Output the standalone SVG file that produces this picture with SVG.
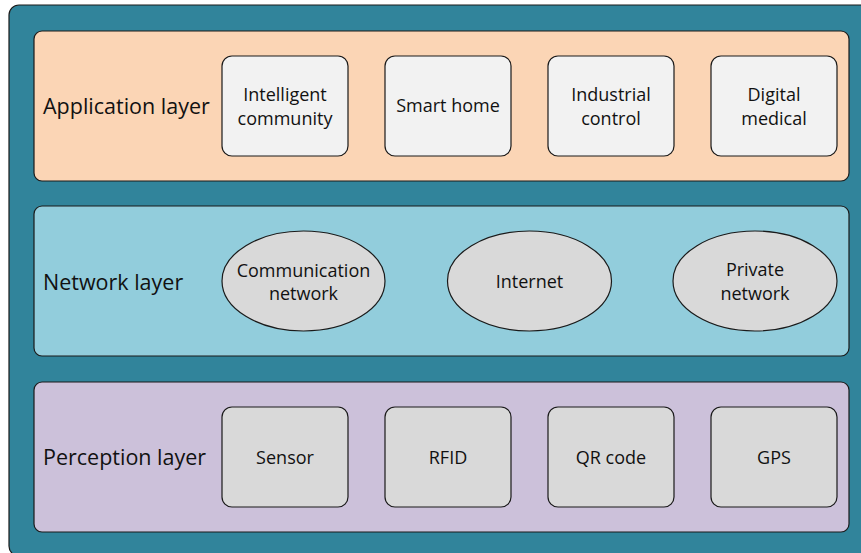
<svg xmlns="http://www.w3.org/2000/svg" width="861" height="553" viewBox="0 0 861 553">
  <style>
    .frame { fill: #31849B; stroke: #1a1a1a; stroke-width: 1.2; }
    .layer { stroke: #1a1a1a; stroke-width: 1.2; }
    .app { fill: #FBD5B5; }
    .net { fill: #92CDDC; }
    .per { fill: #CCC1DA; }
    .item { stroke: #1a1a1a; stroke-width: 1.2; }
    .light { fill: #F2F2F2; }
    .grey { fill: #D9D9D9; }
    text { font-family: "Open Sans", "Liberation Sans", sans-serif; fill: #111; }
    .lbl { font-size: 21.5px; }
    .txt { font-size: 18px; text-anchor: middle; }
  </style>

  <!-- outer frame -->
  <rect class="frame" x="9" y="5" width="880" height="551" rx="10"/>

  <!-- application layer -->
  <g id="application-layer">
    <rect class="layer app" x="34" y="31" width="815" height="150" rx="8"/>
    <text class="lbl" x="43" y="114">Application layer</text>
  </g>
  <g id="intelligent-community">
    <rect class="item light" x="222" y="56" width="126" height="100" rx="10"/>
    <text class="txt" x="285" y="101">Intelligent</text>
    <text class="txt" x="285" y="125">community</text>
  </g>
  <g id="smart-home">
    <rect class="item light" x="385" y="56" width="126" height="100" rx="10"/>
    <text class="txt" x="448" y="112">Smart home</text>
  </g>
  <g id="industrial-control">
    <rect class="item light" x="548" y="56" width="126" height="100" rx="10"/>
    <text class="txt" x="611" y="101">Industrial</text>
    <text class="txt" x="611" y="125">control</text>
  </g>
  <g id="digital-medical">
    <rect class="item light" x="711" y="56" width="126" height="100" rx="10"/>
    <text class="txt" x="774" y="101">Digital</text>
    <text class="txt" x="774" y="125">medical</text>
  </g>

  <!-- network layer -->
  <g id="network-layer">
    <rect class="layer net" x="34" y="206" width="815" height="150" rx="8"/>
    <text class="lbl" x="43" y="290">Network layer</text>
  </g>
  <g id="communication-network">
    <ellipse class="item grey" cx="303.5" cy="281" rx="81.5" ry="50"/>
    <text class="txt" x="303.5" y="277">Communication</text>
    <text class="txt" x="303.5" y="300">network</text>
  </g>
  <g id="internet">
    <ellipse class="item grey" cx="529.5" cy="281" rx="82" ry="50"/>
    <text class="txt" x="529.5" y="288">Internet</text>
  </g>
  <g id="private-network">
    <ellipse class="item grey" cx="755" cy="281" rx="82" ry="50"/>
    <text class="txt" x="755" y="276">Private</text>
    <text class="txt" x="755" y="300">network</text>
  </g>

  <!-- perception layer -->
  <g id="perception-layer">
    <rect class="layer per" x="34" y="382" width="815" height="150" rx="8"/>
    <text class="lbl" x="43" y="465">Perception layer</text>
  </g>
  <g id="sensor">
    <rect class="item grey" x="222" y="407" width="126" height="100" rx="10"/>
    <text class="txt" x="285" y="464">Sensor</text>
  </g>
  <g id="rfid">
    <rect class="item grey" x="385" y="407" width="126" height="100" rx="10"/>
    <text class="txt" x="448" y="464">RFID</text>
  </g>
  <g id="qr-code">
    <rect class="item grey" x="548" y="407" width="126" height="100" rx="10"/>
    <text class="txt" x="611" y="464">QR code</text>
  </g>
  <g id="gps">
    <rect class="item grey" x="711" y="407" width="126" height="100" rx="10"/>
    <text class="txt" x="774" y="464">GPS</text>
  </g>

  <!-- no connectors between the layers -->
  <g id="connectors"/>
</svg>
